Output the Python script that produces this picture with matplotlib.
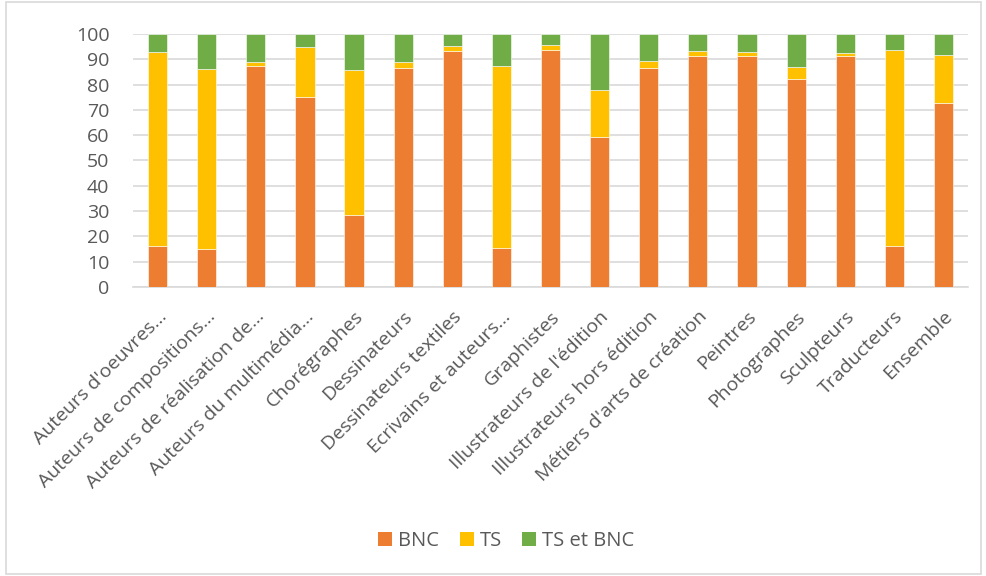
import matplotlib.pyplot as plt
from matplotlib.patches import Patch, Rectangle
from matplotlib.transforms import ScaledTranslation, blended_transform_factory


# ============================================================
# Data (percentages)
# ============================================================

categories = [
    "Auteurs d'oeuvres…",
    "Auteurs de compositions…",
    "Auteurs de réalisation de…",
    "Auteurs du multimédia…",
    "Chorégraphes",
    "Dessinateurs",
    "Dessinateurs textiles",
    "Ecrivains et auteurs…",
    "Graphistes",
    "Illustrateurs de l'édition",
    "Illustrateurs hors édition",
    "Métiers d'arts de création",
    "Peintres",
    "Photographes",
    "Sculpteurs",
    "Traducteurs",
    "Ensemble",
]

bnc = [16.3, 15.0, 87.4, 74.9, 28.4, 86.7, 93.4, 15.3, 93.8,
       59.3, 86.7, 91.3, 91.4, 82.0, 91.4, 16.1, 72.6]
ts = [76.6, 71.0, 1.5, 20.1, 57.4, 2.1, 2.0, 72.2, 1.9,
      18.6, 2.5, 1.9, 1.6, 5.0, 1.1, 77.5, 19.1]
ts_bnc = [7.1, 14.0, 11.1, 5.0, 14.2, 11.2, 4.6, 12.5, 4.3,
          22.1, 10.8, 6.8, 7.0, 13.0, 7.5, 6.4, 8.3]

series_names = ["BNC", "TS", "TS et BNC"]
series_colors = ["#ED7D31", "#FFC000", "#70AD47"]

y_ticks = list(range(0, 101, 10))

TEXT_COLOR = "#595959"
GRID_COLOR = "#D9D9D9"
FONT_SIZE = 14


def plot_chart(output_figure="out.png"):
    plt.rcParams["font.family"] = ["Open Sans", "DejaVu Sans"]

    fig = plt.figure(figsize=(9.87, 5.76), dpi=100)
    ax = fig.add_axes([0.1348, 0.502, 0.846, 0.439])

    x = list(range(len(categories)))
    bottom = [0.0] * len(categories)
    for name, values, color in zip(series_names, [bnc, ts, ts_bnc], series_colors):
        ax.bar(x, values, width=0.39, bottom=bottom, color=color,
               edgecolor="white", linewidth=0.4, zorder=3, label=name)
        bottom = [b + v for b, v in zip(bottom, values)]

    ax.set_xlim(-0.5, len(categories) - 0.5)
    ax.set_ylim(0, 100)
    ax.set_yticks(y_ticks)
    ax.yaxis.grid(True, color=GRID_COLOR, linewidth=1.2, zorder=0)
    ax.set_axisbelow(True)

    for side in ["top", "right", "left"]:
        ax.spines[side].set_visible(False)
    ax.spines["bottom"].set_color(GRID_COLOR)
    ax.spines["bottom"].set_linewidth(1.2)

    ax.tick_params(axis="both", length=0, colors=TEXT_COLOR, labelsize=FONT_SIZE)
    ax.tick_params(axis="y", pad=17)

    # slanted category labels, end of text a little right of / below the bar
    ax.set_xticks(x)
    ax.set_xticklabels([])
    trans = blended_transform_factory(ax.transData, ax.transAxes) + \
        ScaledTranslation(6 / 100, -27 / 100, fig.dpi_scale_trans)
    for xi, name in zip(x, categories):
        ax.text(xi, 0, name, transform=trans, rotation=45, ha="right",
                va="center", rotation_mode="anchor", fontsize=FONT_SIZE,
                color=TEXT_COLOR)

    handles = [Patch(facecolor=c, edgecolor="none") for c in series_colors]
    fig.legend(handles, series_names, loc="center", bbox_to_anchor=(0.513, 0.061),
               ncol=3, frameon=False, fontsize=14.5, handlelength=0.7,
               handleheight=0.7, handletextpad=0.3, columnspacing=1.0,
               labelcolor=TEXT_COLOR)

    # chart area border
    fig.patches.append(Rectangle((0.006, 0.004), 0.988, 0.992,
                                 transform=fig.transFigure, fill=False,
                                 edgecolor=GRID_COLOR, linewidth=1.2))

    fig.savefig(output_figure, dpi=100)


def main():
    plot_chart("out.png")


if __name__ == "__main__":
    main()
